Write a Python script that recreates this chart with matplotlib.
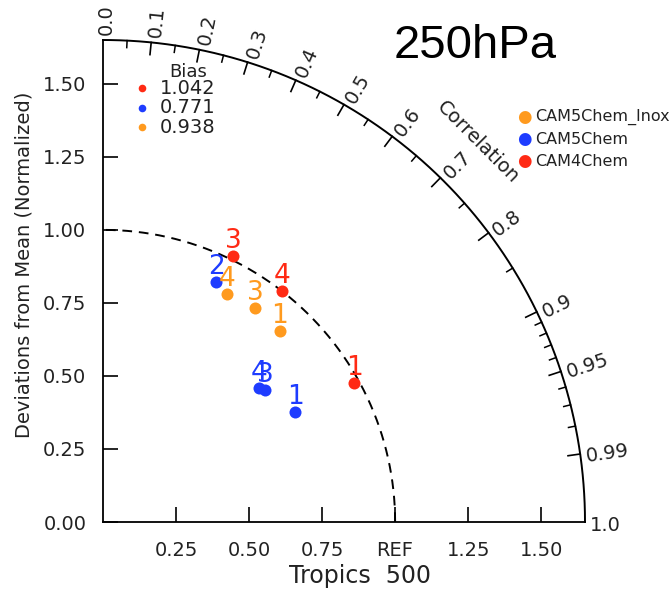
import numpy as np
import matplotlib
matplotlib.use("Agg")
import matplotlib.pyplot as plt

# ---------------- data ----------------
model_names = ["CAM5Chem_lnox", "CAM5Chem", "CAM4Chem"]
model_colors = ["#ff9a1e", "#1e3cff", "#ff2a14"]

cam4_case = [1, 3, 4]
cam4_ratio = [0.983, 1.014, 1.000]
cam4_corr = [0.875, 0.440, 0.613]

cam5_case = [1, 2, 3, 4]
cam5_ratio = [0.758, 0.907, 0.716, 0.704]
cam5_corr = [0.868, 0.427, 0.775, 0.759]

lnox_case = [1, 3, 4]
lnox_ratio = [0.891, 0.898, 0.889]
lnox_corr = [0.680, 0.580, 0.477]

bias_values = ["1.042", "0.771", "0.938"]
bias_colors = ["#ff2a14", "#1e3cff", "#ff9a1e"]

x_ticks = [0.25, 0.50, 0.75, 1.00, 1.25, 1.50]
x_ticklabels = ["0.25", "0.50", "0.75", "REF", "1.25", "1.50"]
y_ticks = [0.00, 0.25, 0.50, 0.75, 1.00, 1.25, 1.50]
y_ticklabels = ["0.00", "0.25", "0.50", "0.75", "1.00", "1.25", "1.50"]

corr_major = [0.0, 0.1, 0.2, 0.3, 0.4, 0.5, 0.6, 0.7, 0.8, 0.9, 0.95, 0.99, 1.0]
corr_major_labels = ["0.0", "0.1", "0.2", "0.3", "0.4", "0.5", "0.6", "0.7",
                     "0.8", "0.9", "0.95", "0.99", "1.0"]
corr_minor = [0.05, 0.15, 0.25, 0.35, 0.45, 0.55, 0.65, 0.75, 0.85,
              0.91, 0.92, 0.93, 0.94, 0.96, 0.97, 0.98]

RMAX = 1.65
TXT = "#222222"

# ---------------- figure ----------------
W, H = 669, 601
fig = plt.figure(figsize=(W / 100, H / 100), dpi=100)
ax = fig.add_axes([103 / W, 1 - 522 / H, 482 / W, 482 / H])
ax.set_xlim(0, RMAX)
ax.set_ylim(0, RMAX)
for s in ["top", "right"]:
    ax.spines[s].set_visible(False)
for s in ["left", "bottom"]:
    ax.spines[s].set_linewidth(1.3)

ax.set_xticks(x_ticks)
ax.set_xticklabels(x_ticklabels)
ax.set_yticks(y_ticks)
ax.set_yticklabels(y_ticklabels)
ax.tick_params(axis="x", direction="in", length=11, width=1.2, labelsize=14,
               pad=14, labelcolor=TXT)
ax.tick_params(axis="y", direction="in", length=11, width=1.2, labelsize=14,
               pad=12, labelcolor=TXT)

fig.text(360 / W, 1 - 576 / H, "Tropics  500", fontsize=17, color=TXT,
         ha="center", va="center")
fig.text(24 / W, 1 - 265 / H, "Deviations from Mean (Normalized)",
         fontsize=14, color=TXT, rotation=90, ha="center", va="center")

# outer arc
th = np.linspace(0, np.pi / 2, 400)
ax.plot(RMAX * np.cos(th), RMAX * np.sin(th), color="black", lw=1.4,
        clip_on=False)
# reference circle
ax.plot(1.0 * np.cos(th), 1.0 * np.sin(th), color="black", lw=1.4,
        ls=(0, (5, 3.5)), clip_on=False)

# correlation ticks
for c, lab in zip(corr_major, corr_major_labels):
    t = np.arccos(c)
    if 0 < c < 1:
        ax.plot([RMAX * np.cos(t), (RMAX - 0.042) * np.cos(t)],
                [RMAX * np.sin(t), (RMAX - 0.042) * np.sin(t)],
                color="black", lw=1.2, clip_on=False)
    r = RMAX + 0.018
    off = 0.012
    px = r * np.cos(t) + off * np.sin(t)
    py = r * np.sin(t) - off * np.cos(t)
    ax.text(px, py, lab, rotation=np.degrees(t), rotation_mode="anchor",
            ha="left", va="center", fontsize=14, color=TXT, clip_on=False)
for c in corr_minor:
    t = np.arccos(c)
    ax.plot([RMAX * np.cos(t), (RMAX - 0.024) * np.cos(t)],
            [RMAX * np.sin(t), (RMAX - 0.024) * np.sin(t)],
            color="black", lw=1.1, clip_on=False)

ax.text(1.285, 1.30, "Correlation", rotation=-45, rotation_mode="anchor",
        ha="center", va="center", fontsize=14, color=TXT)

# points
def draw(cases, ratios, corrs, color):
    ratios = np.asarray(ratios)
    corrs = np.asarray(corrs)
    xs = ratios * corrs
    ys = ratios * np.sqrt(1 - corrs ** 2)
    ax.scatter(xs, ys, s=75, color=color, zorder=5, linewidths=0)
    for k, x, y in zip(cases, xs, ys):
        ax.annotate(str(k), (x, y), xytext=(0, 8), textcoords="offset pixels",
                    ha="center", va="baseline", fontsize=19, color=color,
                    zorder=6)

draw(lnox_case, lnox_ratio, lnox_corr, model_colors[0])
draw(cam4_case, cam4_ratio, cam4_corr, model_colors[2])
draw(cam5_case, cam5_ratio, cam5_corr, model_colors[1])

# bias block
ax.text(0.293, 1.542, "Bias", fontsize=13, color=TXT, ha="center",
        va="center")
for i, (b, c) in enumerate(zip(bias_values, bias_colors)):
    yy = 1.485 - i * 0.067
    ax.scatter([0.132], [yy], s=30, color=c, linewidths=0, zorder=5)
    ax.text(0.195, yy, b, fontsize=14, color=TXT, ha="left", va="center")

# model legend (figure coords)
for i, (name, c) in enumerate(zip(model_names, model_colors)):
    yy = 1 - (117 + 22 * i) / H
    fig.text(524 / W, yy, "\u25CF", fontsize=12, color=c, ha="center",
             va="center")
    fig.text(535 / W, yy, name, fontsize=11.5, color=TXT, ha="left",
             va="center")

fig.text(475 / W, 1 - 58 / H, "250hPa", fontsize=34, family="Liberation Sans",
         ha="center", va="baseline", color="black")

fig.savefig("out.png", dpi=100)
